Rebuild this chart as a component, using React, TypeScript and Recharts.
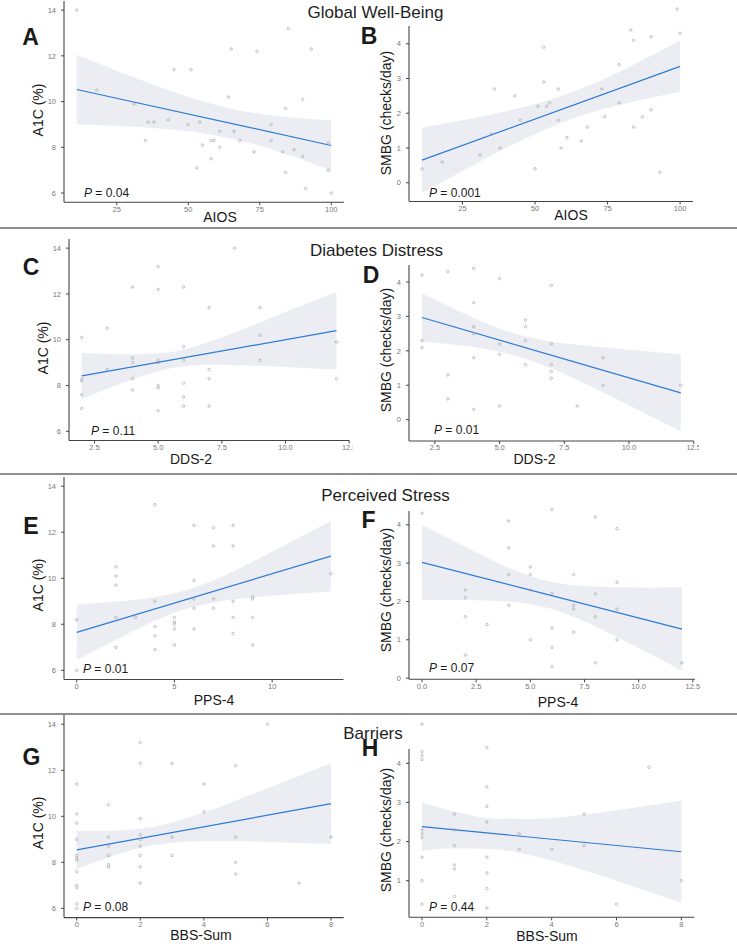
import React from 'react';
import { ComposedChart, XAxis, YAxis, Scatter, Line, Area } from 'recharts';

const FONT = '"Liberation Sans", Arial, Helvetica, sans-serif';

// ---------- Panel A: AIOS vs A1C ----------
const aX = [11,18,31,35,36,38,43,45,50,51,53,54,55,58,58,59,61,61,64,65,66,68,73,74,79,79,83,84,84,85,87,90,90,91,93,99,99,100];
const aY = [14.0,10.5,9.9,8.3,9.1,9.1,9.2,11.4,9.0,11.4,7.1,9.1,8.1,7.5,8.3,8.3,8.7,8.0,10.2,12.3,8.7,8.3,7.8,12.2,9.0,8.3,7.8,6.9,9.7,13.2,7.9,10.1,7.6,6.2,12.3,7.0,8.2,6.0];
const aFitX = [11, 100];
const aFitY = [10.53, 8.08];
const aBandX = [11,25,40,55,65,75,88,100];
const aBandLo = [9.01,8.93,8.82,8.62,8.39,8.07,7.54,6.98];
const aBandHi = [12.05,11.35,10.64,10.02,9.69,9.47,9.28,9.18];

// ---------- Panel B: AIOS vs SMBG ----------
const bX = [11,18,31,35,36,38,43,45,50,51,53,53,54,55,58,58,59,61,66,68,73,74,79,79,83,84,84,87,90,90,93,99,100];
const bY = [0.4,0.6,0.8,1.4,2.7,1.0,2.5,1.8,0.4,2.2,3.9,2.9,2.2,2.3,2.7,1.8,1.0,1.3,1.2,1.6,2.7,1.9,3.4,2.3,4.4,4.1,1.6,1.9,4.2,2.1,0.3,5.0,4.3];
const bFitX = [11, 100];
const bFitY = [0.65, 3.35];
const bBandX = [11,25,40,55,62,75,88,100];
const bBandLo = [-0.29,0.34,1.00,1.58,1.82,2.15,2.41,2.61];
const bBandHi = [1.59,1.80,2.06,2.38,2.58,3.03,3.57,4.09];

// ---------- Panel C: DDS-2 vs A1C ----------
const cX = [2,2,2,2,2,3,3,4,4,4,4,4,5,5,5,5,5,5,5,6,6,6,6,6,6,7,7,7,7,8,9,9,9,12,12];
const cY = [10.1,8.3,8.2,7.6,7.0,10.5,8.7,12.3,9.2,9.0,8.3,7.8,13.2,12.2,9.1,9.0,8.0,7.9,6.9,12.3,9.7,9.1,8.1,7.5,7.1,11.4,8.7,8.3,7.1,14.0,11.4,10.2,9.1,9.9,8.3];
const cFitX = [2, 12];
const cFitY = [8.42, 10.40];
const cBandX = [2,3,4,5.5,7,8.5,10,12];
const cBandLo = [7.42,7.86,8.28,8.76,8.91,8.88,8.81,8.70];
const cBandHi = [9.42,9.38,9.36,9.46,9.91,10.54,11.21,12.10];

// ---------- Panel D: DDS-2 vs SMBG ----------
const dX = [2,2,2,3,3,3,4,4,4,4,4,4,5,5,5,5,6,6,6,6,7,7,7,7,7,8,9,9,12];
const dY = [4.2,2.3,2.1,4.3,1.3,0.6,4.4,3.4,2.7,2.5,1.8,0.3,4.1,2.2,1.9,0.4,2.9,2.7,2.3,1.6,3.9,2.2,1.6,1.4,1.2,0.4,1.8,1.0,1.0];
const dFitX = [2, 12];
const dFitY = [2.97, 0.78];
const dBandX = [2,3,4,5.5,7,8.5,10,12];
const dBandLo = [2.27,2.20,2.11,1.88,1.49,0.98,0.42,-0.34];
const dBandHi = [3.67,3.31,2.96,2.52,2.27,2.14,2.03,1.90];

// ---------- Panel E: PPS-4 vs A1C ----------
const eX = [0,0,2,2,2,2,2,3,4,4,4,4,4,5,5,5,5,5,6,6,6,6,6,7,7,7,7,8,8,8,8,8,9,9,9,9,13];
const eY = [8.2,6.0,10.5,10.1,9.7,8.3,7.0,8.3,13.2,9.0,7.9,7.5,6.9,8.3,8.1,8.0,7.8,7.1,12.3,9.9,9.1,8.7,7.8,12.2,11.4,9.1,8.7,12.3,11.4,9.0,8.3,7.6,9.2,9.1,8.3,7.1,10.2];
const eFitX = [0, 13];
const eFitY = [7.65, 10.96];
const eBandX = [0,2,4,5.6,7,9,11,13];
const eBandLo = [6.45,7.33,8.15,8.68,8.95,9.16,9.30,9.43];
const eBandHi = [8.85,8.99,9.19,9.48,9.91,10.72,11.60,12.49];

// ---------- Panel F: PPS-4 vs SMBG ----------
const fX = [0,2,2,2,2,3,4,4,4,4,5,5,5,5,6,6,6,6,6,7,7,7,7,8,8,8,8,9,9,9,9,12];
const fY = [4.3,2.3,2.1,1.6,0.6,1.4,4.1,3.4,2.7,1.9,2.9,2.7,2.3,1.0,4.4,2.2,1.3,0.8,0.3,2.7,1.9,1.8,1.2,4.2,2.2,1.6,0.4,3.9,2.5,1.8,1.0,0.4];
const fFitX = [0, 12];
const fFitY = [3.02, 1.28];
const fBandX = [0,2,4,5.6,7,9,10.5,12];
const fBandLo = [2.04,2.04,2.00,1.86,1.60,1.07,0.64,0.19];
const fBandHi = [4.00,3.42,2.88,2.56,2.42,2.37,2.36,2.37];

// ---------- Panel G: BBS-Sum vs A1C ----------
const gX = [0,0,0,0,0,0,0,0,0,0,0,0,1,1,1,1,1,1,2,2,2,2,2,2,2,2,2,3,3,3,4,4,5,5,5,5,6,7,8];
const gY = [11.4,10.1,9.7,9.0,8.3,8.2,8.1,7.6,7.0,6.9,6.2,6.0,10.5,9.1,8.7,8.3,7.9,7.8,13.2,12.3,9.9,9.2,9.0,8.7,8.3,7.8,7.1,12.3,9.1,8.3,11.4,10.2,12.2,9.1,8.0,7.5,14.0,7.1,9.1];
const gFitX = [0, 8];
const gFitY = [8.54, 10.55];
const gBandX = [0,1,2.4,4,5,6.5,8];
const gBandLo = [7.71,8.21,8.75,8.92,8.92,8.86,8.80];
const gBandHi = [9.37,9.37,9.53,10.16,10.68,11.48,12.30];

// ---------- Panel H: BBS-Sum vs SMBG ----------
const hX = [0,0,0,0,0,0,0,0,0,0,1,1,1,1,1,1,2,2,2,2,2,2,2,2,3,3,4,5,5,6,7,8];
const hY = [5.0,4.3,4.2,4.1,2.3,2.2,2.1,1.6,1.0,0.4,2.7,2.3,1.9,1.4,1.3,0.6,4.4,3.4,2.9,2.5,1.6,1.2,0.8,0.3,2.2,1.8,1.8,2.7,1.9,0.4,3.9,1.0];
const hFitX = [0, 8];
const hFitY = [2.38, 1.74];
const hBandX = [0,1,2.2,3.5,5,6.5,8];
const hBandLo = [1.76,1.83,1.81,1.62,1.27,0.86,0.43];
const hBandHi = [3.00,2.77,2.59,2.58,2.69,2.86,3.05];

// ---------- ticks ----------
const ticksAIOS = [25, 50, 75, 100];
const ticksDDS = [2.5, 5, 7.5, 10, 12.5];
const ticksPPSe = [0, 5, 10];
const ticksPPSf = [0, 2.5, 5, 7.5, 10, 12.5];
const ticksBBS = [0, 2, 4, 6, 8];
const ticksA1C = [6, 8, 10, 12, 14];
const ticksSMBG = [0, 1, 2, 3, 4];
const ticksSMBGh = [1, 2, 3, 4];

const sectionTitles = ['Global Well-Being', 'Diabetes Distress', 'Perceived Stress', 'Barriers'];

type Spec = {
  id: string;
  x0: number; x1: number; y0: number; y1: number; padR: number;
  xd: [number, number]; yd: [number, number];
  xt: number[]; yt: number[]; dec: boolean;
  px: number[]; py: number[];
  fx: number[]; fy: number[];
  bx: number[]; blo: number[]; bhi: number[];
};

const specs: Spec[] = [
  { id: 'A', x0: 64, x1: 344, y0: 0.5, y1: 201.7, padR: 12, xd: [6.55, 104.45], yd: [5.6, 14.4], xt: ticksAIOS, yt: ticksA1C, dec: false, px: aX, py: aY, fx: aFitX, fy: aFitY, bx: aBandX, blo: aBandLo, bhi: aBandHi },
  { id: 'B', x0: 409, x1: 693, y0: 0.2, y1: 201.7, padR: 12, xd: [6.55, 104.45], yd: [-0.54, 5.26], xt: ticksAIOS, yt: ticksSMBG, dec: false, px: bX, py: bY, fx: bFitX, fy: bFitY, bx: bBandX, blo: bBandLo, bhi: bBandHi },
  { id: 'C', x0: 68.8, x1: 349, y0: 239.2, y1: 440.7, padR: 4, xd: [1.5, 12.5], yd: [5.6, 14.4], xt: ticksDDS, yt: ticksA1C, dec: true, px: cX, py: cY, fx: cFitX, fy: cFitY, bx: cBandX, blo: cBandLo, bhi: cBandHi },
  { id: 'D', x0: 409, x1: 693.7, y0: 259.7, y1: 440.7, padR: 5, xd: [1.5, 12.5], yd: [-0.62, 4.64], xt: ticksDDS, yt: ticksSMBG, dec: true, px: dX, py: dY, fx: dFitX, fy: dFitY, bx: dBandX, blo: dBandLo, bhi: dBandHi },
  { id: 'E', x0: 64, x1: 343.5, y0: 476.8, y1: 679.3, padR: 12, xd: [-0.65, 13.65], yd: [5.6, 14.4], xt: ticksPPSe, yt: ticksA1C, dec: false, px: eX, py: eY, fx: eFitX, fy: eFitY, bx: eBandX, blo: eBandLo, bhi: eBandHi },
  { id: 'F', x0: 409, x1: 695, y0: 501, y1: 679.3, padR: 12, xd: [-0.6, 12.6], yd: [-0.03, 4.62], xt: ticksPPSf, yt: ticksSMBG, dec: true, px: fX, py: fY, fx: fFitX, fy: fFitY, bx: fBandX, blo: fBandLo, bhi: fBandHi },
  { id: 'G', x0: 64, x1: 343.7, y0: 715.1, y1: 917.7, padR: 12, xd: [-0.4, 8.4], yd: [5.6, 14.4], xt: ticksBBS, yt: ticksA1C, dec: false, px: gX, py: gY, fx: gFitX, fy: gFitY, bx: gBandX, blo: gBandLo, bhi: gBandHi },
  { id: 'H', x0: 409, x1: 694.3, y0: 715.4, y1: 917.7, padR: 12, xd: [-0.4, 8.4], yd: [0.065, 5.235], xt: ticksBBS, yt: ticksSMBGh, dec: false, px: hX, py: hY, fx: hFitX, fy: hFitY, bx: hBandX, blo: hBandLo, bhi: hBandHi },
];

const YAW = 36;
const XAH = 22;
const AXIS = '#444444';
const TICKTXT = '#777777';

const dot = (p: any) => (
  <circle cx={p.cx} cy={p.cy} r={1.25} fill="none" stroke="#9c9c9c" strokeWidth={0.6} />
);

function Panel({ s }: { s: Spec }) {
  const width = s.x1 - s.x0 + YAW + s.padR;
  const height = s.y1 - s.y0 + XAH;
  const pts = s.px.map((x, i) => ({ x, y: s.py[i] }));
  const band = s.bx.map((x, i) => ({ x, lo: s.blo[i], hi: s.bhi[i] }));
  const fit = s.fx.map((x, i) => ({ x, y: s.fy[i] }));
  const fmt = (v: number) => (s.dec ? v.toFixed(1) : String(v));
  return (
    <div style={{ position: 'absolute', left: s.x0 - YAW, top: s.y0, width, height }}>
      <ComposedChart width={width} height={height} margin={{ top: 0, right: s.padR, bottom: 0, left: 0 }}>
        <XAxis
          type="number"
          dataKey="x"
          domain={s.xd}
          ticks={s.xt}
          allowDataOverflow
          interval={0}
          height={XAH}
          tickFormatter={fmt}
          axisLine={{ stroke: AXIS, strokeWidth: 1.1 }}
          tickLine={{ stroke: AXIS }}
          tickSize={3}
          tickMargin={1}
          tick={{ fill: TICKTXT, fontSize: 7.5, fontFamily: FONT }}
        />
        <YAxis
          type="number"
          dataKey="y"
          domain={s.yd}
          ticks={s.yt}
          allowDataOverflow
          interval={0}
          width={YAW}
          axisLine={{ stroke: AXIS, strokeWidth: 1.1 }}
          tickLine={{ stroke: AXIS }}
          tickSize={3}
          tickMargin={5}
          tick={{ fill: TICKTXT, fontSize: 7.5, fontFamily: FONT }}
        />
        <Area
          data={band}
          dataKey={(d: any) => [d.lo, d.hi]}
          type="monotone"
          stroke="none"
          fill="#ebedf3"
          fillOpacity={1}
          dot={false}
          activeDot={false}
          isAnimationActive={false}
        />
        <Scatter data={pts} shape={dot} isAnimationActive={false} />
        <Line
          data={fit}
          dataKey="y"
          type="linear"
          stroke="#2f7ad5"
          strokeWidth={1.2}
          dot={false}
          activeDot={false}
          isAnimationActive={false}
        />
      </ComposedChart>
    </div>
  );
}

const panelLetters = [
  { t: 'A', x: 30.5, y: 36.5 }, { t: 'B', x: 369, y: 35.5 },
  { t: 'C', x: 31, y: 266.5 }, { t: 'D', x: 371, y: 275 },
  { t: 'E', x: 31, y: 526 }, { t: 'F', x: 368.5, y: 520 },
  { t: 'G', x: 31.5, y: 757 }, { t: 'H', x: 370, y: 748 },
];

const sectionPos = [
  { x: 375.5, y: 12 }, { x: 376.5, y: 250 }, { x: 385.5, y: 495 }, { x: 373, y: 733 },
];

const xTitles = [
  { t: 'AIOS', x: 220, y: 216.7 }, { t: 'AIOS', x: 571, y: 215 },
  { t: 'DDS-2', x: 191, y: 459 }, { t: 'DDS-2', x: 534.5, y: 459 },
  { t: 'PPS-4', x: 214, y: 700 }, { t: 'PPS-4', x: 558, y: 702 },
  { t: 'BBS-Sum', x: 201, y: 935 }, { t: 'BBS-Sum', x: 547, y: 936 },
];

const yTitles = [
  { t: 'A1C (%)', x: 38, y: 110 }, { t: 'SMBG (checks/day)', x: 386, y: 113 },
  { t: 'A1C (%)', x: 43, y: 348 }, { t: 'SMBG (checks/day)', x: 386, y: 350 },
  { t: 'A1C (%)', x: 38, y: 585 }, { t: 'SMBG (checks/day)', x: 386, y: 590 },
  { t: 'A1C (%)', x: 38, y: 823 }, { t: 'SMBG (checks/day)', x: 386, y: 830 },
];

const pValues = ['0.04', '0.001', '0.11', '0.01', '0.01', '0.07', '0.08', '0.44'];
const pPos = [
  { x: 84, y: 192.7 }, { x: 429, y: 192.7 },
  { x: 91, y: 430.7 }, { x: 434, y: 430 },
  { x: 83, y: 669 }, { x: 429, y: 668 },
  { x: 83, y: 906.7 }, { x: 429, y: 906.7 },
];

const dividers = [227, 473, 713];
const axisCovers = [
  { y: 0, h: 26 }, { y: 259, h: 6 }, { y: 500, h: 11 }, { y: 714, h: 35 },
];

const centered: React.CSSProperties = {
  position: 'absolute',
  transform: 'translate(-50%, -50%)',
  whiteSpace: 'nowrap',
  lineHeight: 1,
};

export default function App() {
  return (
    <div
      style={{
        position: 'absolute', left: 0, top: 0, width: 737, height: 944,
        background: '#ffffff', fontFamily: FONT, overflow: 'hidden', color: '#1a1a1a',
      }}
    >
      {specs.map((s) => <Panel key={s.id} s={s} />)}

      {axisCovers.map((c, i) => (
        <div key={'cv' + i} style={{ position: 'absolute', left: 404, top: c.y, width: 9, height: c.h, background: '#fff' }} />
      ))}

      {dividers.map((y, i) => (
        <div key={'dv' + i} style={{ position: 'absolute', left: 0, top: y, width: 737, height: 2, background: '#8e8e8e' }} />
      ))}

      {sectionTitles.map((t, i) => (
        <div key={'st' + i} style={{ ...centered, left: sectionPos[i].x, top: sectionPos[i].y, fontSize: 17, color: '#1e1e1e' }}>{t}</div>
      ))}

      {panelLetters.map((l) => (
        <div key={'pl' + l.t} style={{ ...centered, left: l.x, top: l.y, fontSize: 23, fontWeight: 700, color: '#1a1a1a' }}>{l.t}</div>
      ))}

      {xTitles.map((l, i) => (
        <div key={'xt' + i} style={{ ...centered, left: l.x, top: l.y, fontSize: 14 }}>{l.t}</div>
      ))}

      {yTitles.map((l, i) => (
        <div key={'yt' + i} style={{ ...centered, left: l.x, top: l.y, fontSize: 14, transform: 'translate(-50%, -50%) rotate(-90deg)' }}>{l.t}</div>
      ))}

      {pValues.map((p, i) => (
        <div key={'pv' + i} style={{ position: 'absolute', left: pPos[i].x, top: pPos[i].y, transform: 'translateY(-50%)', fontSize: 12, lineHeight: 1, whiteSpace: 'nowrap' }}>
          <i>P</i> = {p}
        </div>
      ))}
    </div>
  );
}
